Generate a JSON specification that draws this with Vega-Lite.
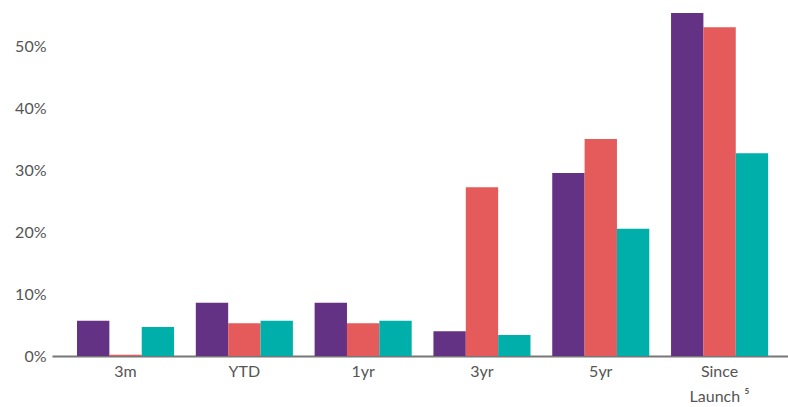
{
  "$schema": "https://vega.github.io/schema/vega-lite/v6.json",
  "width": 736,
  "height": 356,
  "autosize": "none",
  "padding": {"left": 52, "top": 0, "right": 0, "bottom": 51},
  "background": "white",
  "config": {"view": {"stroke": null}, "font": "Lato"},
  "data": {"values": [
    {"period": "3m", "series": "A", "value": 5.7},
    {"period": "3m", "series": "B", "value": 0.2},
    {"period": "3m", "series": "C", "value": 4.7},
    {"period": "YTD", "series": "A", "value": 8.6},
    {"period": "YTD", "series": "B", "value": 5.3},
    {"period": "YTD", "series": "C", "value": 5.7},
    {"period": "1yr", "series": "A", "value": 8.6},
    {"period": "1yr", "series": "B", "value": 5.3},
    {"period": "1yr", "series": "C", "value": 5.7},
    {"period": "3yr", "series": "A", "value": 4.0},
    {"period": "3yr", "series": "B", "value": 27.3},
    {"period": "3yr", "series": "C", "value": 3.4},
    {"period": "5yr", "series": "A", "value": 29.6},
    {"period": "5yr", "series": "B", "value": 35.1},
    {"period": "5yr", "series": "C", "value": 20.6},
    {"period": "Since Launch ⁵", "series": "A", "value": 55.5},
    {"period": "Since Launch ⁵", "series": "B", "value": 53.2},
    {"period": "Since Launch ⁵", "series": "C", "value": 32.8}
  ]},
  "mark": {"type": "bar"},
  "encoding": {
    "x": {
      "field": "period", "type": "nominal", "sort": null, "title": null,
      "scale": {"paddingInner": 0.183, "paddingOuter": 0.189, "align": 0.557},
      "axis": {
        "labelAngle": 0, "ticks": false, "domainColor": "#777777", "domainWidth": 2,
        "labelColor": "#555555", "labelFontSize": 16, "labelPadding": 7, "labelLineHeight": 25,
        "labelExpr": "datum.value == 'Since Launch ⁵' ? ['Since', 'Launch ⁵'] : datum.value"
      }
    },
    "xOffset": {"field": "series", "type": "nominal", "scale": {"paddingInner": 0}},
    "y": {
      "field": "value", "type": "quantitative", "title": null,
      "scale": {"domain": [0, 57.6], "nice": false},
      "axis": {
        "values": [0, 10, 20, 30, 40, 50], "grid": false, "domain": false, "ticks": false,
        "labelColor": "#555555", "labelFontSize": 16, "labelPadding": 6,
        "labelExpr": "datum.value + '%'"
      }
    },
    "color": {
      "field": "series", "type": "nominal", "legend": null,
      "scale": {"domain": ["A", "B", "C"], "range": ["#643285", "#E55A5A", "#00AFAA"]}
    }
  }
}
